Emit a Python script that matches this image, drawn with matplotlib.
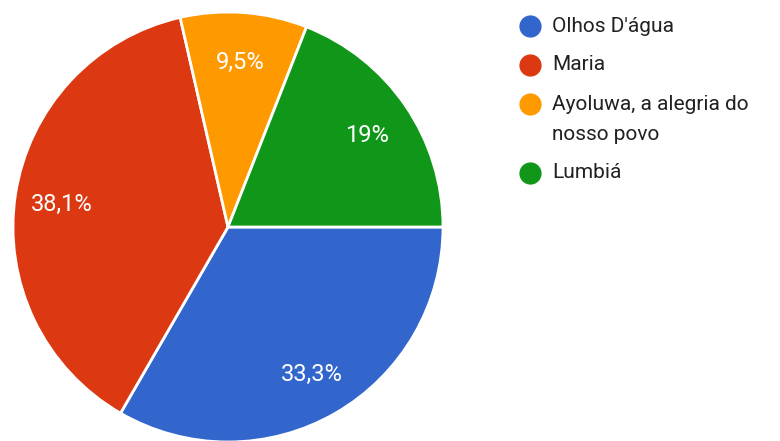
import matplotlib
matplotlib.use("Agg")
import matplotlib.pyplot as plt

categories = ["Olhos D'água", "Maria", "Ayoluwa, a alegria do\nnosso povo", "Lumbiá"]
values = [7, 8, 2, 4]
colors = ["#3366cc", "#dc3912", "#ff9900", "#109618"]

plt.rcParams['font.family'] = ['Roboto', 'DejaVu Sans']

W, H = 780, 441
fig = plt.figure(figsize=(W / 100, H / 100), dpi=100)
ax = fig.add_axes([0, 0, 1, 1])

def fmt(p):
    return f"{p:.1f}".rstrip('0').rstrip('.').replace('.', ',') + "%"

wedges, texts, autotexts = ax.pie(
    values, colors=colors, startangle=0, counterclock=False,
    center=(228, H - 227), radius=215, frame=True,
    autopct=fmt, pctdistance=0.78,
    wedgeprops=dict(edgecolor='white', linewidth=2),
    textprops=dict(color='white', fontsize=17))
for t in autotexts:
    t.set_va('center_baseline')
ax.set_xlim(0, W)
ax.set_ylim(0, H)
ax.axis('off')

# legend
rows_y = [26, 65, 104, 173]
for cat, col, y in zip(categories, colors, rows_y):
    ax.plot([530], [H - y], marker='o', markersize=16, color=col,
            markeredgewidth=0, clip_on=False)
    lines = cat.split('\n')
    for i, line in enumerate(lines):
        ax.text(552, H - y - i * 30, line, color='#212121', fontsize=15,
                va='center', ha='left')

fig.savefig("out.png", dpi=100)
